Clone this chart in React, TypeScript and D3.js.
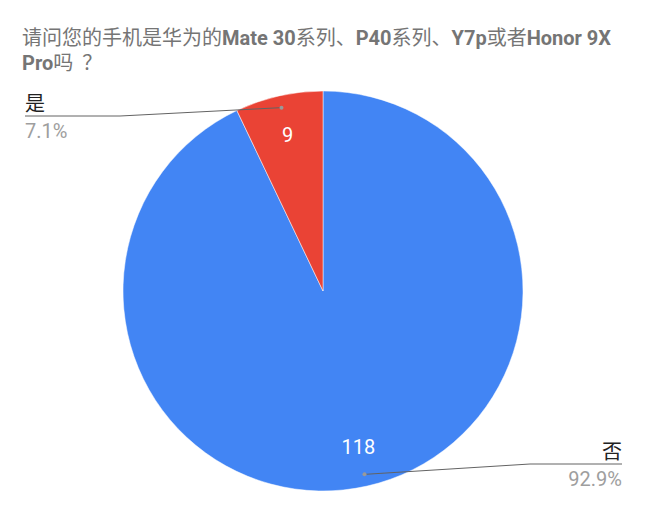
import React from 'react';
import * as d3 from 'd3';

const titleLines = ['请问您的手机是华为的Mate 30系列、P40系列、Y7p或者Honor 9X', 'Pro吗？'];
const categories = ['否', '是'];
const counts = [118, 9];
const colors = ['#4285F4', '#EA4335'];

const W = 648;
const H = 518;
const cx = 323;
const cy = 291;
const radius = 200;

// split into runs so CJK glyphs draw in regular weight and latin in bold
const CJK = /[\u3000-\u9fff\uff00-\uffef]/;
function runs(s: string) {
  const parts = s.match(/？|[\u3000-\u9fff\uff00-\uff1e\uff20-\uffef]+|[^\u3000-\u9fff\uff00-\uffef]+/g) || [];
  return parts.map((p) => ({ text: p, cjk: CJK.test(p), q: p === '？' }));
}

export default function App() {
  const total = d3.sum(counts);
  const pie = d3.pie<number>().sort(null).value((d) => d);
  const arcs = pie(counts);
  const arcGen = d3.arc<d3.PieArcDatum<number>>().innerRadius(0).outerRadius(radius);
  const labelArc = d3.arc<d3.PieArcDatum<number>>().innerRadius(radius * 0.8).outerRadius(radius * 0.8);
  const dotArc = d3.arc<d3.PieArcDatum<number>>().innerRadius(radius * 0.94).outerRadius(radius * 0.94);
  const font = 'Roboto, "Noto Sans CJK SC", sans-serif';

  return (
    <svg width={W} height={H} style={{ display: 'block', margin: '-8px' }} fontFamily={font}>
      <rect width={W} height={H} fill="#fff" />
      {titleLines.map((line, i) => (
        <text key={i} x={22} y={45 + i * 25} fontSize={20} fill="#757575">
          {runs(line).map((r, j) => (
            <tspan
              key={j}
              dx={r.q ? 9 : undefined}
              fontFamily={r.cjk ? '"Noto Sans CJK SC", sans-serif' : font}
              fontWeight={r.cjk ? 'normal' : 'bold'}
            >
              {r.text}
            </tspan>
          ))}
        </text>
      ))}
      <g transform={`translate(${cx},${cy})`}>
        {arcs.map((a, i) => (
          <path key={i} d={arcGen(a) || ''} fill={colors[i]} stroke="#fff" strokeWidth={0.5} />
        ))}
        {arcs.map((a, i) => {
          const [x, y] = labelArc.centroid(a);
          return (
            <text key={'v' + i} x={x} y={y} dy="0.35em" textAnchor="middle" fontSize={20} fill="#fff">
              {counts[i]}
            </text>
          );
        })}
      </g>
      {arcs.map((a, i) => {
        const mid = (a.startAngle + a.endAngle) / 2;
        const [dx, dy] = dotArc.centroid(a);
        const px = cx + dx;
        const py = cy + dy;
        const right = Math.sin(mid) > 0;
        const lineY = right ? 464 : 116;
        const endX = right ? 622 : 25;
        const kneeX = right ? 530 : 120;
        const pct = d3.format('.1%')(counts[i] / total);
        return (
          <g key={'l' + i}>
            <path
              d={`M${px},${py}L${kneeX},${lineY}L${endX},${lineY}`}
              fill="none"
              stroke="#636363"
              strokeWidth={1}
            />
            <circle cx={px} cy={py} r={2} fill="#999" />
            <text x={endX} y={lineY - 5} textAnchor={right ? 'end' : 'start'} fontSize={20} fill="#222"
              fontFamily='"Noto Sans CJK SC", sans-serif'>
              {categories[i]}
            </text>
            <text x={endX} y={lineY + 22} textAnchor={right ? 'end' : 'start'} fontSize={20} fill="#9e9e9e">
              {pct}
            </text>
          </g>
        );
      })}
    </svg>
  );
}
